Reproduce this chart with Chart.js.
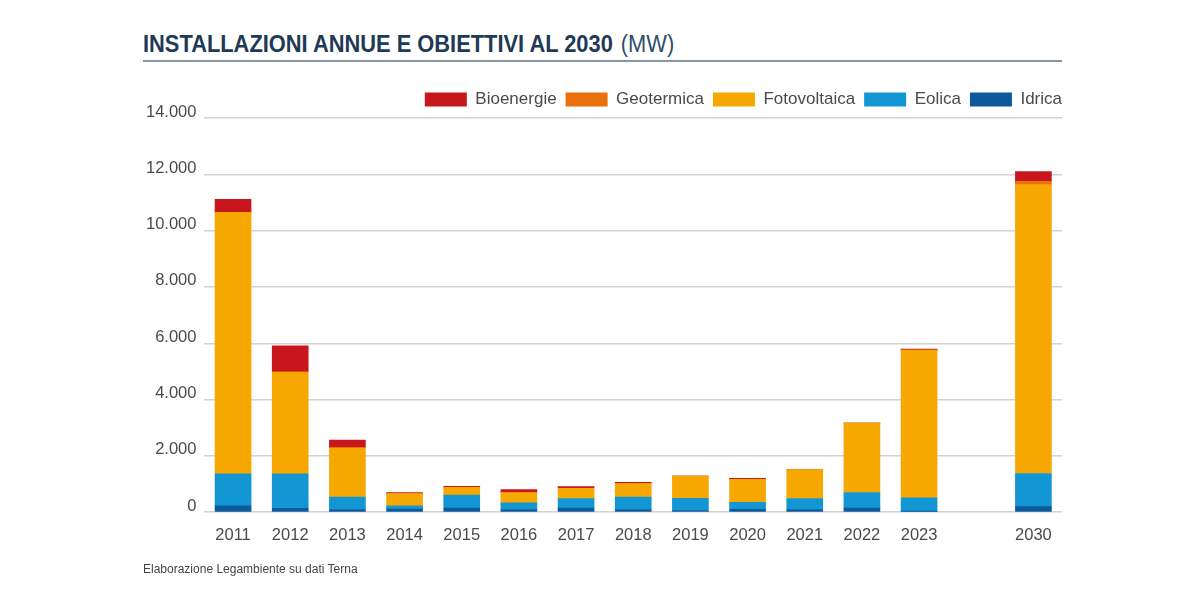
<!DOCTYPE html>
<html>
<head>
<meta charset="utf-8">
<script src="https://cdn.jsdelivr.net/npm/chart.js@4.4.1/dist/chart.umd.min.js"></script>
<style>
  html, body { margin: 0; padding: 0; background: #fff; }
  body { width: 1200px; height: 606px; position: relative; overflow: hidden; }
  #title { position: absolute; left: 143px; top: 31px; font-family: "Liberation Sans Narrow", "Liberation Sans", sans-serif; font-size: 23px; color: #1e3a55; white-space: nowrap; transform: scaleX(0.95); transform-origin: left top; }
  #title b { font-weight: bold; }
  #title span { font-weight: normal; color: #2e4d6b; margin-left: 2px; }
  #rule { position: absolute; left: 143px; top: 60px; width: 919px; height: 2px; background: #8796a3; }
  #foot { position: absolute; left: 143px; top: 562px; font-family: "Liberation Sans", Arial, sans-serif; font-size: 12px; color: #444; }
  #wrap { position: absolute; left: 0; top: 0; width: 1200px; height: 606px; }
</style>
</head>
<body>
<div id="title"><b>INSTALLAZIONI ANNUE E OBIETTIVI AL 2030</b> <span>(MW)</span></div>
<div id="rule"></div>
<div id="wrap"><canvas id="c" width="1200" height="606"></canvas></div>
<div id="foot">Elaborazione Legambiente su dati Terna</div>
<script>
const categories = ['2011','2012','2013','2014','2015','2016','2017','2018','2019','2020','2021','2022','2023','','2030'];
const idrica       = [230, 140,  95, 110, 150,  95, 150,  95,  60, 100,   95,  150,   40, null,   200];
const eolica       = [1130,1220, 440, 120, 455, 235, 335, 440, 430, 250,  390,  550,  470, null,  1175];
const fotovoltaica = [9290,3620,1755, 430, 275, 370, 365, 485, 790, 820, 1030, 2465, 5245, null, 10260];
const geotermica   = [0,   0,   0,   0,   0,   0,   0,   0,   0,   0,    0,    0,    0, null,   115];
const bioenergie   = [460, 925, 275,  40,  35, 105,  60,  45,   0,  30,    5,    0,   35, null,   345];
const yTicks = [0, 2000, 4000, 6000, 8000, 10000, 12000, 14000];

function fmt(v) { return String(v).replace(/\B(?=(\d{3})+(?!\d))/g, '.'); }

const txt = '#4a4a4a';
const fam = '"Liberation Sans", Arial, sans-serif';

new Chart(document.getElementById('c'), {
  type: 'bar',
  data: {
    labels: categories,
    datasets: [
      { label: 'Idrica', data: idrica, backgroundColor: '#0c5a9b' },
      { label: 'Eolica', data: eolica, backgroundColor: '#1396d4' },
      { label: 'Fotovoltaica', data: fotovoltaica, backgroundColor: '#f6a800' },
      { label: 'Geotermica', data: geotermica, backgroundColor: '#e9700c' },
      { label: 'Bioenergie', data: bioenergie, backgroundColor: '#c8161d' }
    ]
  },
  options: {
    responsive: false,
    animation: false,
    layout: { padding: { left: 138, right: 129, top: 82, bottom: 48 } },
    datasets: { bar: { barThickness: 36, borderWidth: 0 } },
    plugins: {
      legend: {
        position: 'top',
        align: 'end',
        reverse: true,
        labels: { boxWidth: 42, boxHeight: 14, padding: 9, color: txt, font: { family: fam, size: 17 } }
      },
      tooltip: { enabled: false }
    },
    scales: {
      x: {
        stacked: true,
        grid: { display: false, drawTicks: false },
        border: { display: false },
        ticks: { color: txt, font: { family: fam, size: 16.5 }, padding: 13, maxRotation: 0, autoSkip: false }
      },
      y: {
        stacked: true,
        min: 0, max: 14000,
        afterBuildTicks: (s) => { s.ticks = yTicks.map(v => ({ value: v })); },
        grid: { color: '#d2d2d2', lineWidth: 1.5, drawTicks: false },
        border: { display: false },
        ticks: { color: txt, font: { family: fam, size: 16.5 }, padding: 8, labelOffset: -6, callback: (v) => fmt(v) }
      },
      y2: {
        position: 'right',
        display: true,
        grid: { display: false, drawTicks: false },
        border: { display: false },
        ticks: { display: false },
        afterFit: (s) => { s.width = 9; }
      }
    }
  }
});
</script>
</body>
</html>
